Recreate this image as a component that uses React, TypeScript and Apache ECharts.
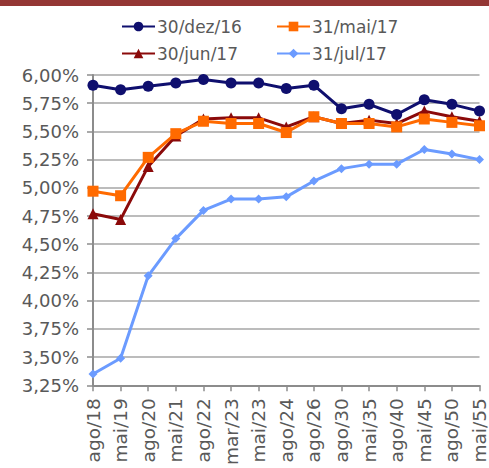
import React, { useEffect, useRef } from "react";
import * as echarts from "echarts";

const categories = ["ago/18", "mai/19", "ago/20", "mai/21", "ago/22", "mar/23", "mai/23", "ago/24", "ago/26", "ago/30", "mai/35", "ago/40", "mai/45", "ago/50", "mai/55"];
const seriesNames = ["30/dez/16", "31/mai/17", "30/jun/17", "31/jul/17"];
const dez16 = [5.91, 5.87, 5.9, 5.93, 5.96, 5.93, 5.93, 5.88, 5.91, 5.7, 5.74, 5.65, 5.78, 5.74, 5.68];
const mai17 = [4.97, 4.93, 5.27, 5.48, 5.59, 5.57, 5.57, 5.49, 5.63, 5.57, 5.57, 5.54, 5.61, 5.58, 5.55];
const jun17 = [4.77, 4.72, 5.19, 5.46, 5.61, 5.62, 5.62, 5.54, 5.63, 5.57, 5.6, 5.57, 5.68, 5.63, 5.59];
const jul17 = [3.35, 3.49, 4.22, 4.55, 4.8, 4.9, 4.9, 4.92, 5.06, 5.17, 5.21, 5.21, 5.34, 5.3, 5.25];

const colors = ["#0f0f6e", "#ff6a00", "#8b0a0a", "#6b9bff"];
const symbols = ["circle", "rect", "triangle", "diamond"];
const symbolSizes = [11, 11, 11, 9];
const FONT = "DejaVu Sans";

export default function App() {
  const ref = useRef<HTMLDivElement>(null);
  useEffect(() => {
    if (!ref.current) return;
    const chart = echarts.init(ref.current, undefined, { renderer: "svg" });
    const values = [dez16, mai17, jun17, jul17];
    const legendPos = [
      { left: 116, top: 13 },
      { left: 271, top: 13 },
      { left: 116, top: 40 },
      { left: 271, top: 40 },
    ];
    chart.setOption({
      animation: false,
      backgroundColor: "#ffffff",
      color: colors,
      graphic: [
        { type: "rect", left: 0, top: 0, shape: { width: 489, height: 6 }, style: { fill: "#943634" } },
      ],
      legend: seriesNames.map((n, i) => ({
        data: [n],
        left: legendPos[i].left,
        top: legendPos[i].top,
        itemWidth: 33,
        itemHeight: 12,
        textStyle: { fontFamily: FONT, fontSize: 17, color: "#595959", padding: [0, 0, 0, -3] },
      })),
      grid: { left: 93, right: 4, top: 75, bottom: 80, containLabel: false },
      xAxis: {
        type: "category",
        data: categories,
        boundaryGap: false,
        axisLine: { lineStyle: { color: "#8c8c8c", width: 2 } },
        axisTick: { show: true, length: 6, lineStyle: { color: "#8c8c8c", width: 1.5 } },
        axisLabel: { rotate: 90, interval: 0, fontFamily: FONT, fontSize: 18.5, color: "#595959", margin: 13 },
        splitLine: { show: false },
      },
      yAxis: {
        type: "value",
        min: 3.25,
        max: 6.0,
        interval: 0.25,
        axisLine: { show: true, lineStyle: { color: "#8c8c8c", width: 2 } },
        axisTick: { show: true, length: 6, lineStyle: { color: "#8c8c8c", width: 1.5 } },
        axisLabel: {
          fontFamily: FONT,
          fontSize: 18,
          color: "#595959",
          margin: 14,
          formatter: (v: number) => v.toFixed(2).replace(".", ",") + "%",
        },
        splitLine: { show: true, lineStyle: { color: "#a6a6a6", width: 1.5 } },
      },
      series: seriesNames.map((n, i) => ({
        name: n,
        type: "line",
        data: values[i],
        symbol: symbols[i],
        symbolSize: symbolSizes[i],
        showSymbol: true,
        lineStyle: { width: 3, color: colors[i] },
        itemStyle: { color: colors[i] },
        z: i === 0 ? 5 : 4 - i,
      })),
    });
    return () => chart.dispose();
  }, []);
  return (
    <div
      ref={ref}
      style={{ position: "fixed", left: 0, top: 0, width: 489, height: 468, background: "#fff" }}
    />
  );
}
